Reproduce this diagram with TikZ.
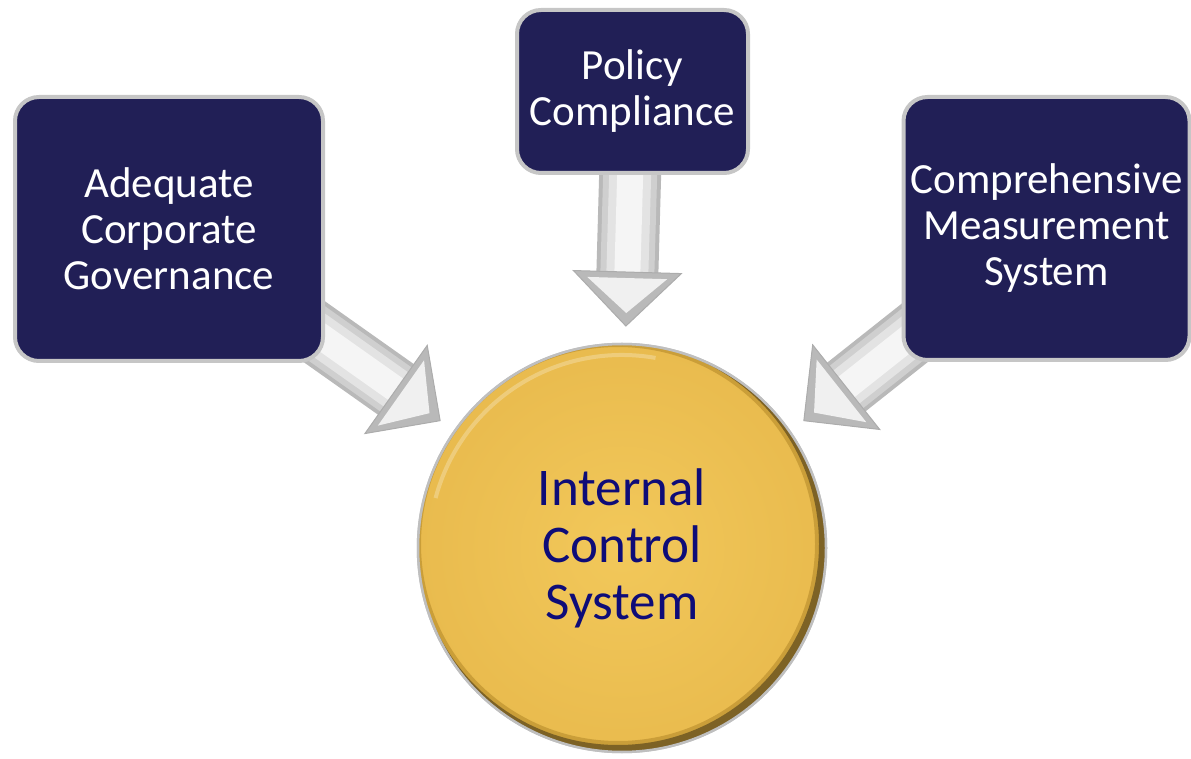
\documentclass[tikz,border=0pt]{standalone}
\usepackage{fontspec}
\setmainfont{Carlito}
\usetikzlibrary{calc, positioning, backgrounds}

\definecolor{boxblue}{RGB}{33,31,86}
\definecolor{textblue}{RGB}{14,12,120}
\definecolor{goldlight}{RGB}{242,200,90}
\definecolor{goldmid}{RGB}{233,187,78}
\definecolor{golddark}{RGB}{190,146,48}
\definecolor{goldedge}{RGB}{112,88,34}

% gray block arrow from a box to a tip coordinate
\newcommand{\grayarrow}[2]{%
  \coordinate (s) at ($(#2)!210pt!(#1)$);
  \coordinate (h) at ($(#2)!54pt!(#1)$);
  \foreach \w/\c in {62/55, 54/38, 42/22, 26/8}
    \draw[line width=\w pt, gray!\c] (s) -- (h);
  \filldraw[fill=gray!55, draw=gray!65, line width=1pt] ($(h)!54pt!90:(#2)$) -- (#2) -- ($(h)!54pt!-90:(#2)$) -- cycle;
  \fill[gray!12] ($($(h)!6pt!(#2)$)!40pt!90:(#2)$) -- ($(#2)!13pt!(h)$) -- ($($(h)!6pt!(#2)$)!40pt!-90:(#2)$) -- cycle;
}

\begin{document}
\begin{tikzpicture}[x=1pt, y=1pt, >=latex,
  goalbox/.style={rectangle, rounded corners=24pt, fill=boxblue, draw=gray!45, line width=4pt,
    text=white, align=center, font=\fontsize{43}{46}\selectfont},
  corenode/.style={circle, inner color=goldlight, outer color=goldmid, draw=gray!50, line width=2.5pt,
    inner sep=0pt, minimum size=408pt, text=textblue, align=center, font=\fontsize{53}{57}\selectfont}]
  \useasboundingbox (0,0) rectangle (1191,758);

  \node[corenode] (ics) at (622,210) {Internal\\Control\\System};
  \node[goalbox, minimum width=308pt, minimum height=264pt] (acg) at (169,529) {Adequate\\Corporate\\Governance};
  \node[goalbox, minimum width=231pt, minimum height=163pt] (pc) at (632.5,666.5) {Policy\\Compliance};
  \node[goalbox, minimum width=286pt, minimum height=263pt] (cms) at (1046.5,529.5) {Comprehensive\\Measurement\\System};

  % darker rim of the gold disc, heavier at lower right
  \begin{scope}
    \clip (ics.center) circle [radius=204pt];
    \draw[golddark, line width=30pt, opacity=0.7] ($(ics.center)+(-4pt,4pt)$) circle [radius=212pt];
    \draw[goldedge, line width=22pt, opacity=0.85] ($(ics.center)+(-4pt,4pt)$) circle [radius=212pt];
    \draw[white, opacity=0.25, line width=4pt] ($(ics.center)+(80:193pt)$) arc [start angle=80, end angle=165, radius=193pt];
  \end{scope}
  \draw[gray!50, line width=2.5pt] (ics.center) circle [radius=204pt];

  \coordinate (tipacg) at ($(ics)+(145:222pt)$);
  \coordinate (tippc) at ($(ics)+(89:222pt)$);
  \coordinate (tipcms) at ($(ics)+(35:222pt)$);

  \begin{scope}[on background layer]
    \grayarrow{acg}{tipacg}
    \grayarrow{pc}{tippc}
    \grayarrow{cms}{tipcms}
  \end{scope}
\end{tikzpicture}
\end{document}
